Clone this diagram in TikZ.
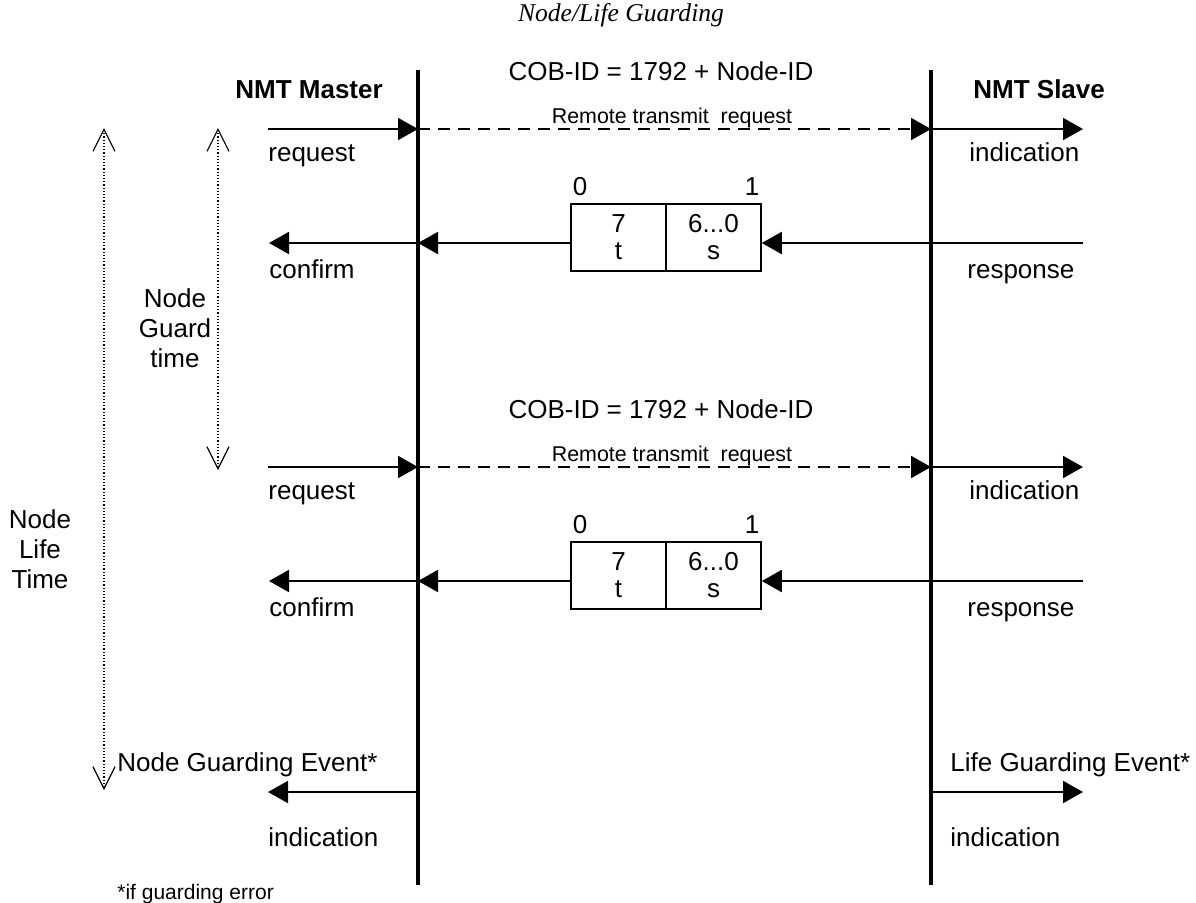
\documentclass[tikz,border=0pt]{standalone}
\usepackage{fontspec}
\setmainfont{Liberation Sans}
\newfontfamily\titlefont{Liberation Serif}
\usetikzlibrary{arrows.meta}
\begin{document}
\begin{tikzpicture}[x=0.5pt,y=-0.5pt,
  lbl/.style={inner sep=0pt, font=\fontsize{13}{15}\selectfont},
  hdr/.style={inner sep=0pt, font=\bfseries\fontsize{13}{15}\selectfont},
  small/.style={inner sep=0pt, font=\fontsize{10.7}{12}\selectfont},
  msg/.style={line width=1pt, -{Triangle[length=10pt,width=11pt]}},
  rtr/.style={msg, dash pattern=on 6pt off 4pt},
  life/.style={line width=2pt},
  cell/.style={draw, line width=0.8pt, minimum width=47.5pt, minimum height=33.5pt,
    inner sep=0pt, align=center, font=\fontsize{13}{13.5}\selectfont},
  span/.style={line width=0.6pt, dash pattern=on 0.6pt off 1pt,
    {Straight Barb[length=11pt,width=11pt,line width=0.6pt]}-{Straight Barb[length=11pt,width=11pt,line width=0.6pt]}}
]
\useasboundingbox (0,0) rectangle (1196,902);

% title
\node[inner sep=0pt, font=\titlefont\itshape\fontsize{12.8}{14}\selectfont] (title) at (621,15) {Node/Life Guarding};

% lifelines
\coordinate (mTop) at (418,70);
\coordinate (mBot) at (418,885);
\coordinate (sTop) at (931,70);
\coordinate (sBot) at (931,885);
\draw[life] (mTop) -- (mBot);
\draw[life] (sTop) -- (sBot);

\node[hdr, anchor=base west] (master) at (235,98) {NMT Master};
\node[hdr, anchor=base west] (slave) at (973,98) {NMT Slave};

\foreach \r/\o in {1/0,2/338}{
  \begin{scope}[yshift=-\o*0.5pt]
  % request row
  \coordinate (mIn\r) at (268,129);
  \coordinate (mL\r) at (418,129);
  \coordinate (sL\r) at (931,129);
  \coordinate (sOut\r) at (1083,129);
  \draw[msg] (mIn\r) -- (mL\r);
  \draw[rtr] (mL\r) -- (sL\r);
  \draw[msg] (sL\r) -- (sOut\r);
  \node[lbl, anchor=base] (cob\r) at (661,80) {COB-ID = 1792 + Node-ID};
  \node[small, anchor=base] (rtrl\r) at (672,123) {Remote transmit\ \ request};
  \node[lbl, anchor=base west] (req\r) at (268,161) {request};
  \node[lbl, anchor=base west] (ind\r) at (969,161) {indication};
  % response row
  \node[cell] (ct\r) at (618.5,237.5) {7\\t};
  \node[cell] (cs\r) at (713.5,237.5) {6...0\\s};
  \node[lbl, anchor=base] (b0\r) at (580,195) {0};
  \node[lbl, anchor=base] (b1\r) at (752,195) {1};
  \coordinate (sIn\r) at (1083,243);
  \coordinate (sR\r) at (931,243);
  \coordinate (mR\r) at (418,243);
  \coordinate (mOut\r) at (269,243);
  \draw[line width=1pt] (sIn\r) -- (sR\r);
  \draw[msg] (sR\r) -- (cs\r.east |- sR\r);
  \draw[msg] (ct\r.west |- mR\r) -- (mR\r);
  \draw[msg] (mR\r) -- (mOut\r);
  \node[lbl, anchor=base west] (conf\r) at (269,278) {confirm};
  \node[lbl, anchor=base west] (resp\r) at (967,278) {response};
  \end{scope}
}

% time spans
\coordinate (gT) at (218,128);
\coordinate (gB) at (218,470);
\coordinate (lT) at (104,128);
\coordinate (lB) at (104,790);
\draw[span] (gT) -- (gB);
\draw[span] (lT) -- (lB);
\node[lbl, align=center] (guard) at (175,328) {Node\\Guard\\time};
\node[lbl, align=center] (lifet) at (40,549) {Node\\Life\\Time};

% guarding events
\node[lbl, anchor=base west] (nge) at (117,771) {Node Guarding Event*};
\node[lbl, anchor=base west] (lge) at (950,771) {Life Guarding Event*};
\coordinate (mE) at (418,792);
\coordinate (mEo) at (268,792);
\coordinate (sE) at (931,792);
\coordinate (sEo) at (1083,792);
\draw[msg] (mE) -- (mEo);
\draw[msg] (sE) -- (sEo);
\node[lbl, anchor=base west] (mind) at (268,846) {indication};
\node[lbl, anchor=base west] (sind) at (950,846) {indication};
\node[small, anchor=base west, font=\fontsize{10.5}{12}\selectfont] (foot) at (117,899) {*if guarding error};
\end{tikzpicture}
\end{document}
